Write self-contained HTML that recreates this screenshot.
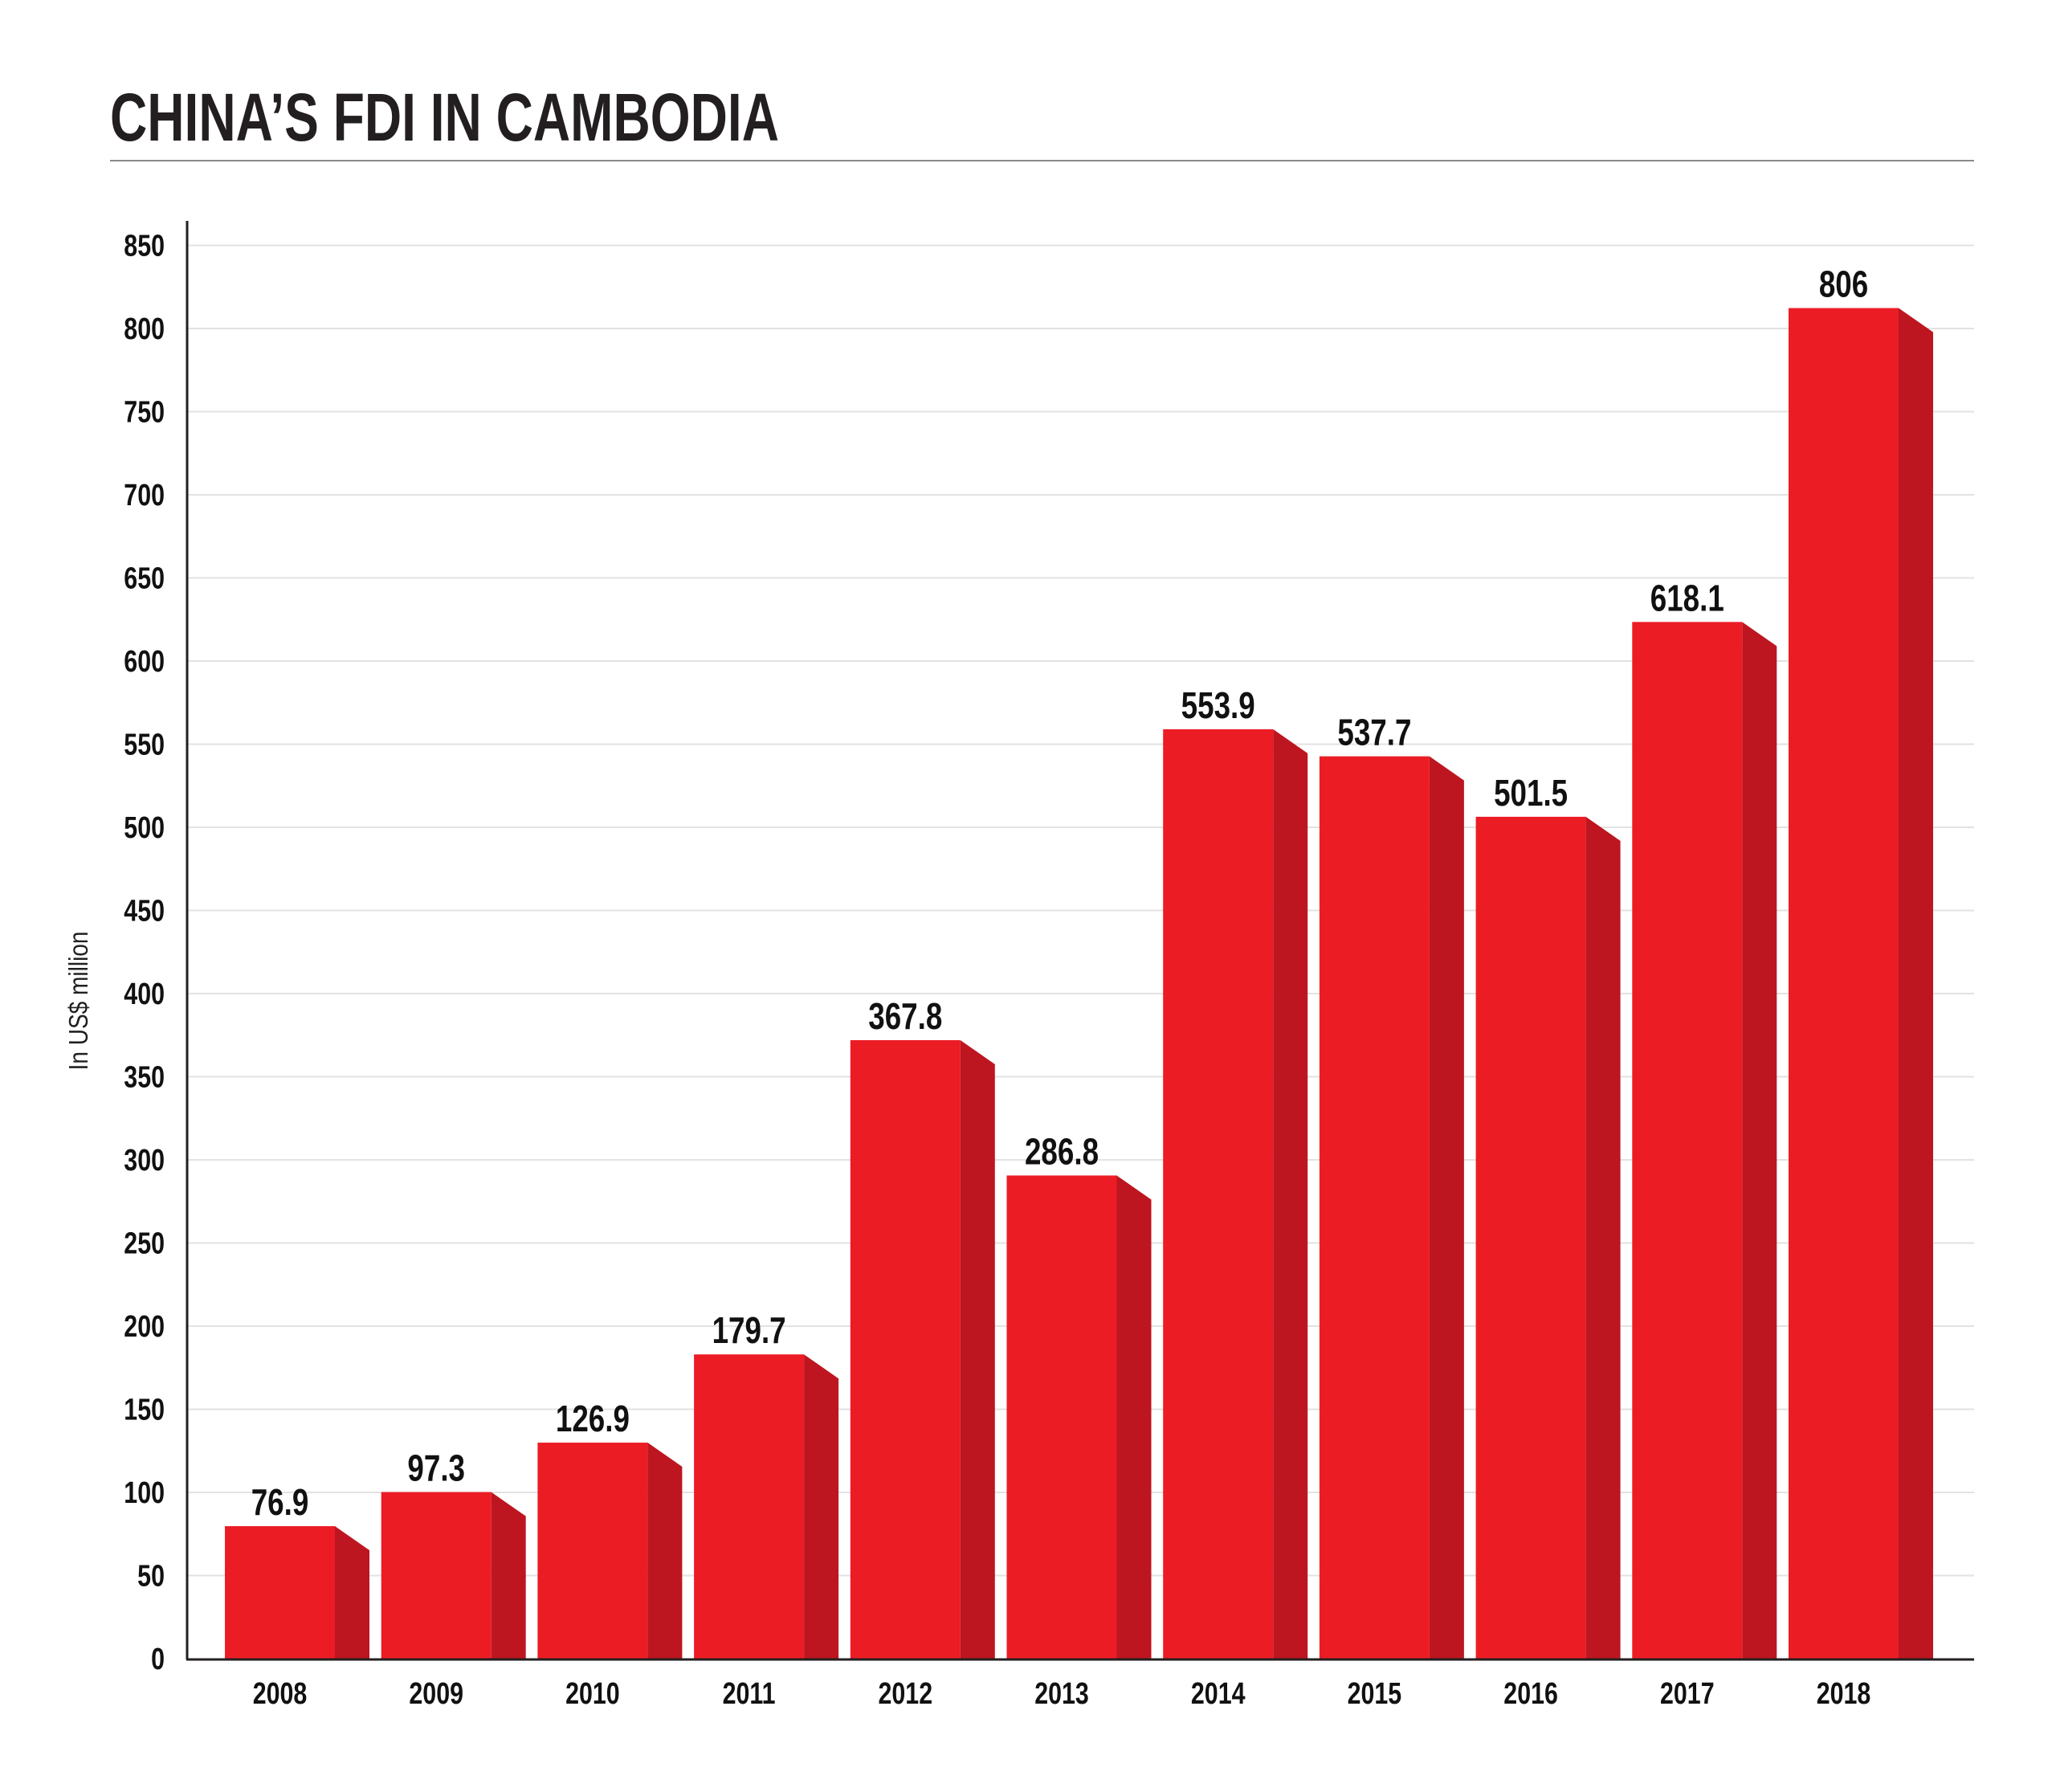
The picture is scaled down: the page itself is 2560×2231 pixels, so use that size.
<!DOCTYPE html>
<html><head><meta charset="utf-8"><style>
html,body{margin:0;padding:0;background:#fff;}
svg{display:block;font-family:"Liberation Sans",Arial,sans-serif;}
</style></head><body>
<svg id="chart" width="2560" height="2231" viewBox="0 0 2560 2231" xmlns="http://www.w3.org/2000/svg">
<text x="137" y="175" font-size="84" font-weight="bold" fill="#231f20" textLength="833" lengthAdjust="spacingAndGlyphs">CHINA’S FDI IN CAMBODIA</text>
<line x1="137" y1="200" x2="2458" y2="200" stroke="#8a8a8a" stroke-width="2"/>
<g id="grid"></g>
<g id="bars"></g>
<line x1="233" y1="275" x2="233" y2="2066" stroke="#231f20" stroke-width="3"/>
<line x1="232" y1="2066" x2="2458" y2="2066" stroke="#231f20" stroke-width="3"/>
<g id="yticks"></g>
<g id="xlabels"></g>
<g transform="translate(99,1246) rotate(-90) scale(0.85,1)"><text x="0" y="10" font-size="33" text-anchor="middle" fill="#231f20">In US$ million</text></g>
</svg>
<script>
const years = ["2008","2009","2010","2011","2012","2013","2014","2015","2016","2017","2018"];
const values = [76.9,97.3,126.9,179.7,367.8,286.8,553.9,537.7,501.5,618.1,806];
const valueLabels = ["76.9","97.3","126.9","179.7","367.8","286.8","553.9","537.7","501.5","618.1","806"];
const tickValues = [0,50,100,150,200,250,300,350,400,450,500,550,600,650,700,750,800,850];

const NS="http://www.w3.org/2000/svg";
function mk(tag,attrs,parent){const e=document.createElementNS(NS,tag);for(const k in attrs)e.setAttribute(k,attrs[k]);parent.appendChild(e);return e;}
function yTick(v){return 2065 - v*2.07;}
function yBar(v){return 2060 - v*2.08;}
function xBar(i){return 280 + i*194.7;}
const FW=137, SW=43, DROP=30;

const grid=document.getElementById('grid'), yt=document.getElementById('yticks');
tickValues.forEach(v=>{
  const y=yTick(v);
  if(v>0){
    const l=mk('line',{x1:233,y1:y,x2:2458,y2:y,stroke:'#e2e2e2','stroke-width':2},grid);
    
    
  }
  const g=mk('g',{transform:`translate(205,${y+13}) scale(0.8,1)`},yt);
  const t=mk('text',{x:0,y:0,'font-size':38,'font-weight':'bold','text-anchor':'end',fill:'#111'},g);
  t.textContent=v;
  
  
});

const bars=document.getElementById('bars'), xl=document.getElementById('xlabels');
values.forEach((v,i)=>{
  const x=xBar(i), top=yBar(v), base=2066;
  const side=mk('polygon',{points:`${x+FW},${top} ${x+FW+SW},${top+DROP} ${x+FW+SW},${base} ${x+FW},${base}`,fill:'#bd1620'},bars);
  
  
  const r=mk('rect',{x:x,y:top,width:FW,height:base-top,fill:'#ec1c24'},bars);
  
  
  const g=mk('g',{transform:`translate(${x+FW/2},${top-14}) scale(0.8,1)`},bars);
  const t=mk('text',{x:0,y:0,'font-size':46,'font-weight':'bold','text-anchor':'middle',fill:'#111'},g);
  t.textContent=valueLabels[i];
  
  
  const g2=mk('g',{transform:`translate(${x+FW/2},2121) scale(0.8,1)`},xl);
  const t2=mk('text',{x:0,y:0,'font-size':38,'font-weight':'bold','text-anchor':'middle',fill:'#111'},g2);
  t2.textContent=years[i];
  
  
});
</script>
</body></html>
